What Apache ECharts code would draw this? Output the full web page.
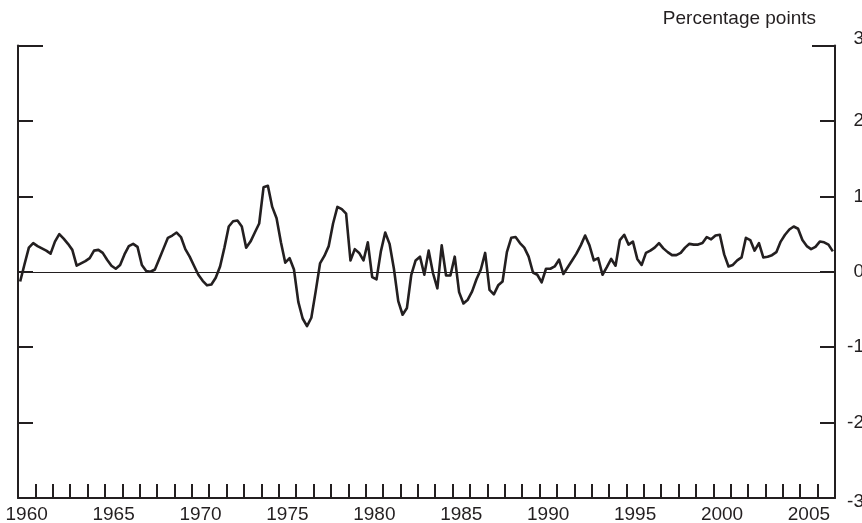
<!DOCTYPE html>
<html>
<head>
<meta charset="utf-8">
<script src="https://cdn.jsdelivr.net/npm/echarts@6/dist/echarts.min.js"></script>
<style>
  html, body { margin: 0; padding: 0; background: #ffffff; }
  #chart { width: 862px; height: 523px; }
</style>
</head>
<body>
<div id="chart"></div>
<script>
// Quarterly series, 1960:Q1 - 2006:Q4 (percentage points)
const startYear = 1960;
const endYear = 2007;
const unitLabel = 'Percentage points';
const yTicks = [-3, -2, -1, 0, 1, 2, 3];

const values1960s = [
  -0.13, 0.10, 0.32, 0.38,  0.34, 0.31, 0.28, 0.24,  0.40, 0.50, 0.44, 0.37,
  0.29, 0.08, 0.11, 0.14,   0.18, 0.28, 0.29, 0.25,  0.16, 0.08, 0.04, 0.09,
  0.23, 0.34, 0.37, 0.33,   0.09, 0.01, 0.00, 0.03,  0.17, 0.31, 0.45, 0.48,
  0.52, 0.46, 0.30, 0.20
];
const values1970s = [
  0.08, -0.04, -0.12, -0.18,  -0.17, -0.08, 0.07, 0.32,  0.60, 0.67, 0.68, 0.60,
  0.32, 0.40, 0.52, 0.64,     1.12, 1.14, 0.86, 0.71,    0.39, 0.12, 0.18, 0.03,
  -0.40, -0.62, -0.72, -0.61, -0.26, 0.11, 0.21, 0.34,   0.64, 0.86, 0.83, 0.77,
  0.15, 0.30, 0.25, 0.15
];
const values1980s = [
  0.39, -0.07, -0.10, 0.27,   0.52, 0.37, 0.04, -0.39,   -0.57, -0.48, -0.04, 0.15,
  0.20, -0.04, 0.28, -0.02,   -0.22, 0.35, -0.05, -0.05, 0.20, -0.27, -0.42, -0.37,
  -0.26, -0.10, 0.03, 0.25,   -0.24, -0.30, -0.18, -0.13, 0.26, 0.45, 0.46, 0.38,
  0.32, 0.20, -0.01, -0.04
];
const values1990s = [
  -0.14, 0.04, 0.04, 0.07,   0.16, -0.03, 0.06, 0.15,   0.24, 0.35, 0.48, 0.35,
  0.15, 0.18, -0.04, 0.06,   0.17, 0.08, 0.42, 0.49,    0.36, 0.40, 0.17, 0.09,
  0.25, 0.28, 0.32, 0.38,    0.31, 0.26, 0.22, 0.22,    0.25, 0.32, 0.37, 0.36,
  0.36, 0.38, 0.46, 0.43
];
const values2000s = [
  0.48, 0.49, 0.23, 0.07,   0.09, 0.15, 0.19, 0.45,   0.42, 0.28, 0.38, 0.19,
  0.20, 0.22, 0.26, 0.40,   0.49, 0.56, 0.60, 0.57,   0.42, 0.34, 0.30, 0.33,
  0.40, 0.39, 0.36, 0.27
];

const values = [].concat(values1960s, values1970s, values1980s, values1990s, values2000s);

// year categories for the tick/label axis
const yearCategories = [];
for (let y = startYear; y < endYear; y++) yearCategories.push(String(y));

// place each quarter at its mid-quarter date
const seriesData = values.map((v, i) => [startYear + (i + 0.5) / 4, v]);

const ink = '#231f20';
const fontFamily = '"Liberation Sans", Arial, Helvetica, sans-serif';
const fontSize = 19;

const chart = echarts.init(document.getElementById('chart'), null, { renderer: 'canvas' });

chart.setOption({
  backgroundColor: '#ffffff',
  animation: false,
  title: {
    text: unitLabel,
    right: 46,
    top: 9,
    padding: 0,
    textStyle: { fontFamily, fontSize, fontWeight: 'normal', color: ink }
  },
  grid: { left: 18, right: 27, top: 45.5, bottom: 25, containLabel: false, outerBoundsMode: 'none' },
  xAxis: [
    {
      type: 'value',
      min: startYear,
      max: endYear,
      show: true,
      axisLine: { show: true, onZero: true, onZeroAxisIndex: 0, lineStyle: { color: ink, width: 1 } },
      axisTick: { show: false },
      axisLabel: { show: false },
      splitLine: { show: false }
    },
    {
      type: 'category',
      data: yearCategories,
      boundaryGap: true,
      position: 'bottom',
      axisLine: { show: true, onZero: false, lineStyle: { color: ink, width: 2 } },
      axisTick: { show: true, inside: true, length: 14, interval: 0, alignWithLabel: false,
                  lineStyle: { color: ink, width: 2 } },
      axisLabel: {
        show: true,
        interval: (idx, val) => Number(val) % 5 === 0,
        margin: 7,
        color: ink,
        fontFamily,
        fontSize
      },
      splitLine: { show: false }
    }
  ],
  yAxis: [
    {
      type: 'value', position: 'left', min: -3, max: 3, interval: 1,
      axisLine: { show: true, onZero: false, lineStyle: { color: ink, width: 2 } },
      axisTick: { show: true, inside: true, length: 15, lineStyle: { color: ink, width: 2 } },
      axisLabel: { show: false },
      splitLine: { show: false }
    },
    {
      type: 'value', position: 'right', min: -3, max: 3, interval: 1,
      axisLine: { show: true, onZero: false, lineStyle: { color: ink, width: 2 } },
      axisTick: { show: true, inside: true, length: 15, lineStyle: { color: ink, width: 2 } },
      axisLabel: {
        show: true, align: 'right', margin: 29, color: ink, fontFamily, fontSize,
        formatter: v => {
          if (!yTicks.includes(v)) return '';
          if (v === 3) return '{t|' + v + '}';
          if (v === -3) return '{b|' + v + '}';
          return String(v);
        },
        rich: {
          t: { fontFamily, fontSize, color: ink, padding: [0, 0, 14, 0] },
          b: { fontFamily, fontSize, color: ink, padding: [8, 0, 0, 0] }
        }
      },
      splitLine: { show: false }
    },
    {
      type: 'value', position: 'left', min: 0, max: 6, interval: 6,
      axisLine: { show: false },
      axisTick: { show: true, inside: true, length: 25, lineStyle: { color: ink, width: 2 } },
      axisLabel: { show: false },
      splitLine: { show: false }
    },
    {
      type: 'value', position: 'right', min: 0, max: 6, interval: 6,
      axisLine: { show: false },
      axisTick: { show: true, inside: true, length: 23, lineStyle: { color: ink, width: 2 } },
      axisLabel: { show: false },
      splitLine: { show: false }
    }
  ],
  series: [
    {
      type: 'line',
      xAxisIndex: 0,
      yAxisIndex: 0,
      data: seriesData,
      showSymbol: false,
      smooth: false,
      lineStyle: { color: ink, width: 2.6, join: 'round' },
      z: 5
    }
  ]
});
</script>
</body>
</html>
